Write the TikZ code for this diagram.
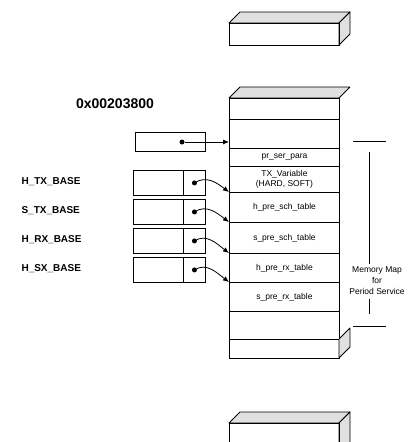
\documentclass[tikz,border=0pt]{standalone}
\usepackage{fontspec}
\setmainfont{Liberation Sans}
\usetikzlibrary{arrows.meta}

\tikzset{
  memcell/.style={draw, line width=0.9pt, minimum width=110pt, inner sep=0pt,
    anchor=north west, align=center, font=\fontsize{8.5}{9.5}\selectfont},
  ptrcell/.style={draw, line width=0.9pt, inner sep=0pt, anchor=north west},
  ptrdot/.style={circle, fill, inner sep=0pt, minimum size=5pt},
  baselbl/.style={anchor=west, font=\fontsize{10}{10}\selectfont\bfseries},
  ptrarrow/.style={line width=0.8pt, -{Latex[length=6pt,width=5pt]}},
  torn/.style={draw, line width=0.9pt, fill=black!12, line join=round},
  bracket/.style={line width=0.9pt}
}

\begin{document}
\begin{tikzpicture}[x=1pt, y=-1pt]
  \useasboundingbox (0,0) rectangle (409,442);

  % upper block, cut off
  \draw[torn] (229,23) -- (240,12) -- (350,12) -- (339,23) -- cycle;
  \draw[torn] (339,23) -- (350,12) -- (350,34) -- (339,45) -- cycle;
  \draw[line width=0.9pt] (229,23) rectangle (339,45);

  % main memory block
  \draw[torn] (229,98) -- (240,87) -- (350,87) -- (339,98) -- cycle;
  \node[memcell, minimum height=21pt] (rtop) at (229,98) {};
  \node[memcell, minimum height=29pt] (rbase) at (229,119) {};
  \node[memcell, minimum height=18pt] (rpara) at (229,148) {pr\_ser\_para};
  \node[memcell, minimum height=26pt] (rtxvar) at (229,166) {TX\_Variable\\(HARD, SOFT)};
  \node[memcell, minimum height=30pt] (rhsch) at (229,192) {h\_pre\_sch\_table};
  \node[memcell, minimum height=31pt] (rssch) at (229,222) {s\_pre\_sch\_table};
  \node[memcell, minimum height=29pt] (rhrx) at (229,253) {h\_pre\_rx\_table};
  \node[memcell, minimum height=29pt] (rsrx) at (229,282) {s\_pre\_rx\_table};
  \node[memcell, minimum height=28pt] (rfree) at (229,311) {};
  \node[memcell, minimum height=19pt] (rend) at (229,339) {};
  \draw[torn] (339,339) -- (350,328) -- (350,347) -- (339,358) -- cycle;

  % lower block, cut off
  \draw[torn] (229,423) -- (240,412) -- (350,412) -- (339,423) -- cycle;
  \draw[torn] (339,423) -- (350,412) -- (350,446) -- (339,446) -- cycle;
  \draw[line width=0.9pt] (229,446) -- (229,423) -- (339,423) -- (339,446);

  % start address
  \node[font=\fontsize{14}{14}\selectfont\bfseries] (addr) at (115,104) {0x00203800};
  \node[ptrcell, minimum width=70pt, minimum height=19pt] (addrbox) at (135,132) {};
  \node[ptrdot] (addrdot) at (182,142) {};
  \draw[ptrarrow] (addrdot) -- (rbase.west |- addrdot);

  % base pointers
  \node[ptrcell, minimum width=50pt, minimum height=25pt] (htxl) at (133,170) {};
  \node[ptrcell, minimum width=22pt, minimum height=25pt] (htxr) at (183,170) {};
  \node[ptrcell, minimum width=50pt, minimum height=25pt] (stxl) at (133,199) {};
  \node[ptrcell, minimum width=22pt, minimum height=25pt] (stxr) at (183,199) {};
  \node[ptrcell, minimum width=50pt, minimum height=25pt] (hrxl) at (133,228) {};
  \node[ptrcell, minimum width=22pt, minimum height=25pt] (hrxr) at (183,228) {};
  \node[ptrcell, minimum width=50pt, minimum height=25pt] (hsxl) at (133,257) {};
  \node[ptrcell, minimum width=22pt, minimum height=25pt] (hsxr) at (183,257) {};

  \node[baselbl] (htxlbl) at (18,182) {H\_TX\_BASE};
  \node[baselbl] (stxlbl) at (18,211) {S\_TX\_BASE};
  \node[baselbl] (hrxlbl) at (18,240) {H\_RX\_BASE};
  \node[baselbl] (hsxlbl) at (18,269) {H\_SX\_BASE};

  \node[ptrdot] (htxdot) at (htxr.center) {};
  \node[ptrdot] (stxdot) at (stxr.center) {};
  \node[ptrdot] (hrxdot) at (hrxr.center) {};
  \node[ptrdot] (hsxdot) at (hsxr.center) {};

  \draw[ptrarrow] (htxdot.center) .. controls +(12,-8) and +(-12,-9) .. (rhsch.north west);
  \draw[ptrarrow] (stxdot.center) .. controls +(12,-8) and +(-12,-9) .. (rssch.north west);
  \draw[ptrarrow] (hrxdot.center) .. controls +(12,-8) and +(-12,-9) .. (rhrx.north west);
  \draw[ptrarrow] (hsxdot.center) .. controls +(12,-8) and +(-12,-9) .. (rsrx.north west);

  % memory map bracket
  \node[align=center, font=\fontsize{8.5}{11}\selectfont] (maplbl) at (377,281) {Memory Map\\for\\Period Service};
  \draw[bracket] (353,141) -- (386,141);
  \draw[bracket] (369,152) -- (maplbl.north -| 369,0);
  \draw[bracket] (maplbl.south -| 369,0) -- (369,314);
  \draw[bracket] (353,326) -- (386,326);
\end{tikzpicture}
\end{document}
